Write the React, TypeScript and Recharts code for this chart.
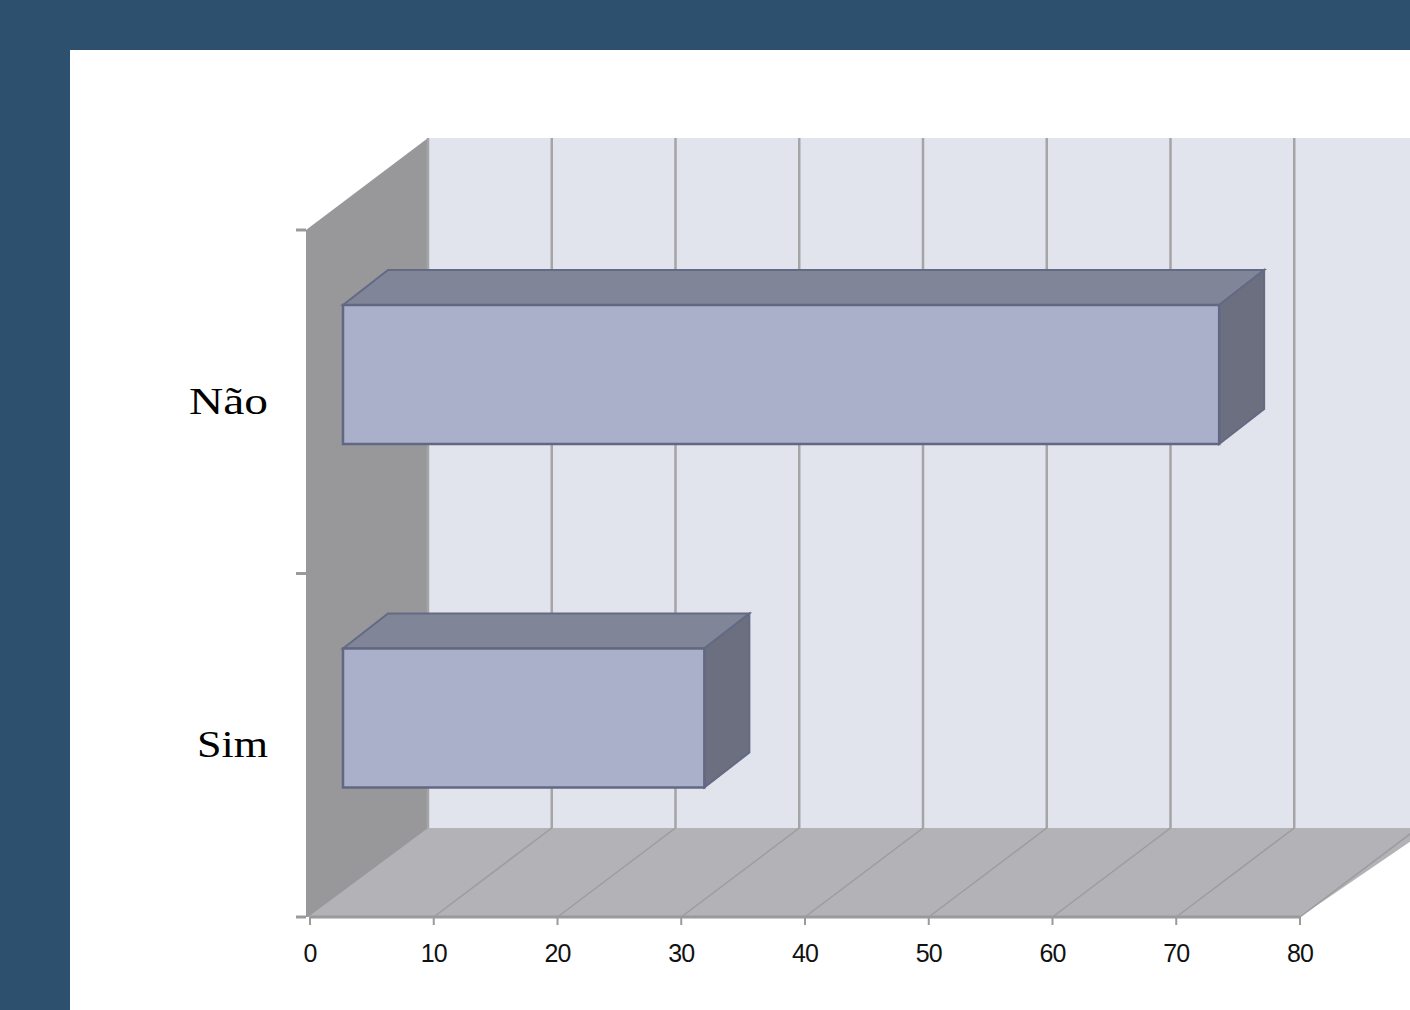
import { BarChart, Bar, XAxis, YAxis, CartesianGrid } from 'recharts';

// data
const categories = ['Não', 'Sim'];
const values = [70.8, 29.2];
const xTicks = [0, 10, 20, 30, 40, 50, 60, 70, 80];

const chartData = categories.map((label, i) => ({ label, value: values[i] }));

const W = 1410;
const H = 1010;
const Y_AXIS_W = 310;
const MARGIN = { top: 230, right: 110, bottom: 43, left: 0 };

// 3D offsets (back wall and bar depth)
const BACK_DX = 118;
const BACK_DY = -89;
const BAR_DX = 33;
const BAR_DY = -27;
const BAR_DEPTH_DX = 45;
const BAR_DEPTH_DY = -35;

// walls + gridlines, drawn through the grid so they stay behind the bars
const renderVertical = (props: any) => {
  const { x1, y1, y2, index } = props;
  const bx = x1 + BACK_DX;
  const top = y1 + BACK_DY - 3;
  const walls =
    index === 0 ? (
      <g>
        <rect x={bx} y={top} width={W - bx} height={y2 + BACK_DY - top} fill="#e1e4ec" />
        {/* side wall runs a little under the floor so no seam shows */}
        <polygon
          points={`${x1 - 4},${y1} ${bx},${top} ${bx},${y2 + BACK_DY} ${bx + 6},${y2 + BACK_DY} ${x1 + 4},${y2} ${x1 - 4},${y2}`}
          fill="#98989a"
        />
        <polygon
          points={`${x1 - 2},${y2} ${bx},${y2 + BACK_DY} ${W + 20},${y2 + BACK_DY} ${W - MARGIN.right},${y2}`}
          fill="#b3b2b7"
        />
        {[y1, (y1 + y2) / 2, y2].map((ty) => (
          <line key={ty} x1={x1 - 14} x2={x1 - 4} y1={ty} y2={ty} stroke="#9a9a9a" strokeWidth={3} />
        ))}
      </g>
    ) : null;
  return (
    <g key={`grid-${index}`}>
      {walls}
      <line x1={bx} x2={bx} y1={top} y2={y2 + BACK_DY} stroke="#a5a5a7" strokeWidth={2.5} />
      {index > 0 && (
        <line x1={x1} y1={y2} x2={bx} y2={y2 + BACK_DY} stroke="#9c9ca0" strokeWidth={1.5} />
      )}
    </g>
  );
};

const Box3D = (props: any) => {
  const { x, y, width, height } = props;
  const fx = x + BAR_DX;
  const fy = y + BAR_DY;
  const dx = BAR_DEPTH_DX;
  const dy = BAR_DEPTH_DY;
  return (
    <g>
      <polygon
        points={`${fx},${fy} ${fx + dx},${fy + dy} ${fx + width + dx},${fy + dy} ${fx + width},${fy}`}
        fill="#818598"
        stroke="#646a84"
        strokeWidth={2}
      />
      <polygon
        points={`${fx + width},${fy} ${fx + width + dx},${fy + dy} ${fx + width + dx},${fy + height + dy} ${fx + width},${fy + height}`}
        fill="#6c6f80"
        stroke="#646a84"
        strokeWidth={2}
      />
      <rect x={fx} y={fy} width={width} height={height} fill="#abb0ca" stroke="#626883" strokeWidth={2.5} />
    </g>
  );
};

const CategoryTick = ({ x, y, payload }: any) => (
  <text
    x={x}
    y={y + 12}
    textAnchor="end"
    fontFamily="Liberation Serif"
    fontSize={38}
    fill="#000"
    textLength={payload.value === 'Não' ? 79 : 71}
    lengthAdjust="spacingAndGlyphs"
  >
    {payload.value}
  </text>
);

const ValueTick = ({ x, y, payload }: any) => (
  <text x={x} y={y + 35} textAnchor="middle" fontFamily="Liberation Sans" fontSize={25} letterSpacing={-1} fill="#111">
    {payload.value}
  </text>
);

export default function App() {
  return (
    <div style={{ position: 'relative', width: W, height: H, background: '#2d506e' }}>
      <style>{`body{margin:0}`}</style>
      <div style={{ position: 'absolute', left: 70, top: 50, width: W - 70, height: H - 50, background: '#fff' }} />
      <div style={{ position: 'absolute', left: 0, top: 0 }}>
        <BarChart width={W} height={H} data={chartData} layout="vertical" margin={MARGIN} barSize={139}>
          <CartesianGrid horizontal={false} vertical={renderVertical} />
          <XAxis
            type="number"
            domain={[0, 80]}
            ticks={xTicks}
            height={50}
            stroke="#9a9a9a"
            axisLine={{ stroke: '#9a9a9a', strokeWidth: 3 }}
            tickLine={{ stroke: '#9a9a9a', strokeWidth: 2 }}
            tickSize={8}
            tick={<ValueTick />}
            interval={0}
          />
          <YAxis
            type="category"
            dataKey="label"
            width={Y_AXIS_W}
            axisLine={false}
            tickLine={false}
            tickSize={0}
            tickMargin={42}
            tick={<CategoryTick />}
          />
          <Bar dataKey="value" shape={<Box3D />} isAnimationActive={false} />
        </BarChart>
      </div>
    </div>
  );
}
